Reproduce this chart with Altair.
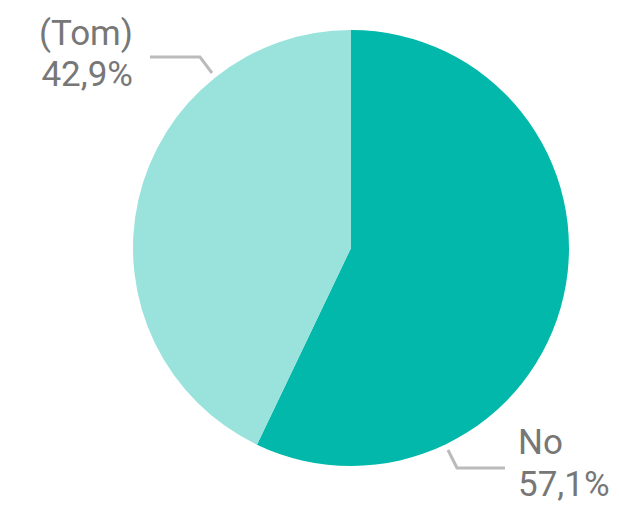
import altair as alt
import pandas as pd

categories = ["No", "(Tom)"]
values = [57.1, 42.9]
colors = ["#01B8AA", "#99E3DC"]

df = pd.DataFrame({"category": categories, "value": values, "order": [0, 1]})

W, H = 603, 498
CX, CY, R = 343, 240, 218

base = alt.Chart(df)

pie = base.mark_arc(outerRadius=R).encode(
    theta=alt.Theta("value:Q", stack=True),
    color=alt.Color("category:N", scale=alt.Scale(domain=categories, range=colors), legend=None),
    order=alt.Order("order:Q"),
    x=alt.value(CX),
    y=alt.value(CY),
)

# label anchor positions (annotation layout)
lab = pd.DataFrame({
    "category": categories,
    "lx": [510, 125],
    "ly": [446, 37],
    "align": ["left", "right"],
})
lab = lab.merge(df, on="category")

label_base = alt.Chart(lab).transform_calculate(
    label="[datum.category, replace(format(datum.value, '.1f'), '.', ',') + '%']"
)
text_left = label_base.transform_filter("datum.align == 'left'").mark_text(
    align="left", baseline="alphabetic", fontSize=35, font="Roboto", color="#777777", lineHeight=42
).encode(x=alt.X("lx:Q", scale=None), y=alt.Y("ly:Q", scale=None), text="label:N")
text_right = label_base.transform_filter("datum.align == 'right'").mark_text(
    align="right", baseline="alphabetic", fontSize=35, font="Roboto", color="#777777", lineHeight=41
).encode(x=alt.X("lx:Q", scale=None), y=alt.Y("ly:Q", scale=None), text="label:N")

leaders = pd.DataFrame({
    "g": ["t", "t", "t", "n", "n", "n"],
    "i": [0, 1, 2, 0, 1, 2],
    "px": [142, 192, 204, 440, 449, 497],
    "py": [49, 49, 65, 442, 460, 460],
})
lines = alt.Chart(leaders).mark_line(color="#BBBBBB", strokeWidth=3).encode(
    x=alt.X("px:Q", scale=None),
    y=alt.Y("py:Q", scale=None),
    detail="g:N",
    order="i:Q",
)

chart = alt.layer(pie, lines, text_left, text_right).properties(
    width=W, height=H, padding=0, autosize=alt.AutoSizeParams(type="none")
).configure_view(stroke=None)

chart.save("out.html", embed_options={"renderer": "svg", "actions": False})
